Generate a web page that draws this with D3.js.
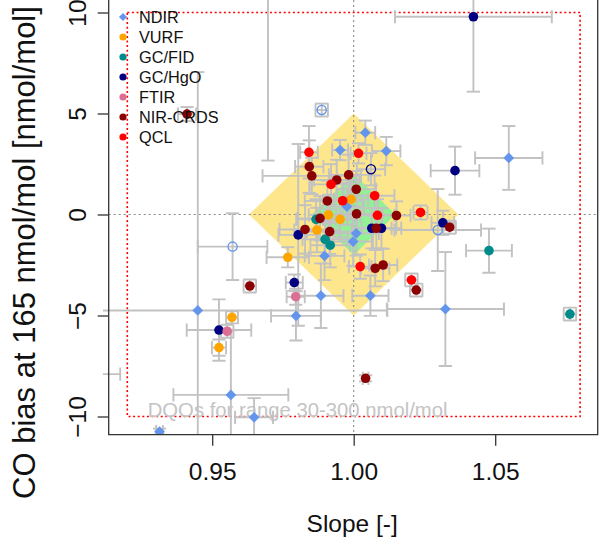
<!DOCTYPE html>
<html><head><meta charset="utf-8">
<script src="https://cdn.jsdelivr.net/npm/d3@7"></script>
<style>html,body{margin:0;padding:0;background:#fff}svg{display:block;font-family:"Liberation Sans",Arial,sans-serif}</style>
</head><body>
<svg id="c" width="601" height="540"></svg>
<script>
// ---- data ----
const seriesNames = ["NDIR","VURF","GC/FID","GC/HgO","FTIR","NIR-CRDS","QCL"];
const seriesColors = ["#6495ED","#FFA500","#008B8B","#000080","#DB7093","#8B0000","#FF0000"];
// rows: [slope, bias, slopeErr, biasErr, open(1)]
const NDIR = [
 [1.0548,2.80,0.0119,1.58],[1.0324,-4.68,0.0207,2.82],[1.0059,-4.02,0.0064,1.0],
 [0.9884,-4.02,0.0080,1.6],[0.9796,-5.02,0.0088,1.22],[0.9449,-4.75,0.067,11.8],
 [0.9566,-8.93,0.0203,3.2],[0.9648,-10.04,0.0067,0.95],[0.9314,-10.75,0.0012,0.15],
 [1.0041,4.05,0.0035,0.6],[0.9952,3.19,0.0028,0.5],[1.0115,3.14,0.0050,0.7],
 [0.9887,5.17,0.0022,0.32,1],[0.9976,0.39,0.006,0.9],[1.0009,-0.93,0.008,1.1],
 [0.9998,-1.34,0.007,1.2],[0.9897,-2.05,0.007,1.2],[1.0297,-0.77,0.0153,2.03,1],
 [0.9572,-1.59,0.0123,1.65,1],[0.9697,15.0,0,12.33],[0.905,-7.9,0.0125,0]
];
const VURF = [
 [0.9524,-6.59,0.0025,0.4],[0.9570,-5.09,0.0021,0.3],[0.9767,-2.12,0.0075,0.5],
 [0.9991,0.75,0.006,0.8],[0.9911,-0.02,0.007,1.0],[0.9952,-0.24,0.006,0.9],[0.9870,-0.77,0.008,1.1]
];
const GCFID = [
 [1.0764,-4.93,0.0022,0.32],[1.0478,-1.79,0.0081,1.09],[0.9867,-0.24,0.007,1.0],
 [0.9899,-1.23,0.008,1.2],[0.9917,-1.52,0.007,1.1]
];
const GCHGO = [
 [1.0423,9.79,0.0277,3.71],[1.0358,2.17,0.0086,1.19],[1.0315,-0.41,0.004,0.6],
 [0.9804,-1.01,0.007,4.5],[1.0064,-0.68,0.007,1.0],[1.0098,-0.68,0.007,1.0],
 [0.9790,-3.37,0.003,0.4],[0.9524,-5.72,0.0114,1.52],[1.0061,2.24,0.005,0.8,1]
];
const FTIR = [[0.9553,-5.78,0.0022,0.32],[0.9795,-4.07,0.0032,0.4]];
const NIRCRDS = [
 [0.9411,4.97,0.0032,0.35],[0.9633,-3.54,0.0022,0.32],[1.0042,-8.11,0.001,0.15],
 [1.0221,-3.74,0.0022,0.32],[1.0339,-0.63,0.0022,0.32],[0.9843,2.37,0.005,1.3],
 [0.9852,1.91,0.0174,0.9],[0.9940,1.71,0.008,1.0],[0.9982,1.96,0.007,1.0],
 [1.0009,1.25,0.007,0.9],[0.9907,0.67,0.008,1.0],[1.0010,0.03,0.007,0.9],
 [0.9881,-0.19,0.008,1.1],[0.9828,-0.74,0.009,1.2],[0.9915,-0.85,0.008,1.1],
 [1.0080,-0.68,0.007,1.0],[1.0151,-0.05,0.005,0.7],[1.0076,-2.66,0.005,0.9],[1.0104,-2.50,0.005,0.8]
];
const QCL = [
 [0.9842,3.08,0.0031,1.3],[1.0017,3.03,0.0028,0.5],[0.9920,1.49,0.007,1.0],
 [0.9961,0.68,0.007,0.9],[1.0074,0.93,0.007,1.0],[1.0084,-0.04,0.006,0.8],
 [1.0236,0.10,0.0025,0.35],[1.0023,-2.58,0.004,0.6],[1.0204,-3.24,0.0022,0.32]
];
const seriesData = [NDIR, VURF, GCFID, GCHGO, FTIR, NIRCRDS, QCL];
// DQO regions
const dqoOuterSlope = [0.963, 1, 1.037, 1], dqoOuterBias = [0, 5, 0, -5];
const dqoInnerSlope = [0.9852, 1, 1.0148, 1], dqoInnerBias = [0, 2, 0, -2];
const rangeBoxSlope = [0.92, 1.08], rangeBoxBias = [-10, 10];
const xTicks = [0.95, 1.00, 1.05], yTicks = [-10, -5, 0, 5, 10];

// ---- layout ----
const svg = d3.select("#c");
const L = 108.7, R = 597.7, B = 434.7, T = -30;
const x = d3.scaleLinear().domain([0.95, 1.05]).range([212.2, 495.2]);
const y = d3.scaleLinear().domain([-10, 10]).range([416.5, 12.5]);

svg.append("clipPath").attr("id","clip").append("rect")
  .attr("x", 103).attr("y", T).attr("width", R - 103).attr("height", B - T);
const g = svg.append("g").attr("clip-path","url(#clip)");

const poly = (xs, ys) => xs.map((s,i)=>[x(s), y(ys[i])]);
g.append("polygon").attr("points", poly(dqoOuterSlope,dqoOuterBias).join(" ")).attr("fill","#FEE68D");
g.append("polygon").attr("points", poly(dqoInnerSlope,dqoInnerBias).join(" ")).attr("fill","#92F095");

// zero lines
g.append("line").attr("x1",L).attr("x2",R).attr("y1",y(0)).attr("y2",y(0))
  .attr("stroke","#8a8a8a").attr("stroke-width",1.1).attr("stroke-dasharray","2,3");
g.append("line").attr("x1",x(1)).attr("x2",x(1)).attr("y1",T).attr("y2",B)
  .attr("stroke","#8a8a8a").attr("stroke-width",1.1).attr("stroke-dasharray","2,3");
// range box
g.append("rect").attr("x",x(rangeBoxSlope[0])).attr("y",y(rangeBoxBias[1]))
  .attr("width",x(rangeBoxSlope[1])-x(rangeBoxSlope[0])).attr("height",y(rangeBoxBias[0])-y(rangeBoxBias[1]))
  .attr("fill","none").attr("stroke","#FF0000").attr("stroke-width",1.6).attr("stroke-dasharray","2,2.6");

g.append("text").attr("x",147.7).attr("y",416.7).attr("font-size",20.3).attr("fill","#c4c4c4")
  .text("DQOs for range 30-300 nmol/mol");

// error bars
const cap = 6.6;
const eb = g.append("g").attr("stroke","#c2c2c2").attr("stroke-width",1.9).attr("fill","none");
seriesData.forEach(arr => arr.forEach(d => {
  const px = x(d[0]), py = y(d[1]);
  if (d[2] > 0) {
    const a = x(d[0]-d[2]), b = x(d[0]+d[2]);
    eb.append("line").attr("x1",a).attr("x2",b).attr("y1",py).attr("y2",py);
    eb.append("line").attr("x1",a).attr("x2",a).attr("y1",py-cap).attr("y2",py+cap);
    eb.append("line").attr("x1",b).attr("x2",b).attr("y1",py-cap).attr("y2",py+cap);
  }
  if (d[3] > 0) {
    const a = y(d[1]-d[3]), b = y(d[1]+d[3]);
    eb.append("line").attr("x1",px).attr("x2",px).attr("y1",a).attr("y2",b);
    eb.append("line").attr("x1",px-cap).attr("x2",px+cap).attr("y1",a).attr("y2",a);
    eb.append("line").attr("x1",px-cap).attr("x2",px+cap).attr("y1",b).attr("y2",b);
  }
}));

// points
const diamond = h => `M0,${-h}L${h},0L0,${h}L${-h},0Z`;
function marker(sel, si, open, scale) {
  const c = seriesColors[si];
  if (open) {
    sel.append("circle").attr("r",4.6*scale).attr("fill","none").attr("stroke",c).attr("stroke-width",1.3);
  } else if (si === 0) {
    sel.append("path").attr("d",diamond(5.4*scale)).attr("fill",c);
  } else {
    sel.append("circle").attr("r",4.8*scale).attr("fill",c);
  }
}
seriesData.forEach((arr, si) => arr.forEach(d => {
  const m = g.append("g").attr("transform",`translate(${x(d[0])},${y(d[1])})`);
  marker(m, si, d[4] === 1, 1);
}));

// axes / frame
const axCol = "#333";
svg.append("path").attr("d",`M${L},-2V${B}H${R}V-2`).attr("fill","none").attr("stroke",axCol).attr("stroke-width",1.3);
const xa = svg.append("g").attr("transform",`translate(0,${B})`)
  .call(d3.axisBottom(x).tickValues(xTicks).tickFormat(d3.format(".2f")).tickSize(11).tickPadding(17));
xa.select(".domain").remove();
xa.selectAll("line").attr("stroke",axCol).attr("stroke-width",1.3);
xa.selectAll("text").attr("font-size",24.5).attr("fill","#111").attr("font-family","Liberation Sans, Arial, sans-serif");
const ya = svg.append("g").attr("transform",`translate(${L},0)`)
  .call(d3.axisLeft(y).tickValues(yTicks).tickFormat(d3.format("d")).tickSize(11));
ya.select(".domain").remove();
ya.selectAll("line").attr("stroke",axCol).attr("stroke-width",1.3);
ya.selectAll("text").attr("x",0).attr("dy",0).attr("text-anchor","middle")
  .attr("transform",`translate(${86-L},0) rotate(-90)`)
  .attr("font-size",24.5).attr("fill","#111").attr("font-family","Liberation Sans, Arial, sans-serif");

svg.append("text").attr("x",352.2).attr("y",531.7).attr("text-anchor","middle")
  .attr("font-size",24.5).attr("fill","#111").text("Slope [-]");
svg.append("text").attr("transform","translate(35,252.5) rotate(-90)").attr("text-anchor","middle")
  .attr("font-size",31).attr("fill","#111").text("CO bias at 165 nmol/mol [nmol/mol]");

// legend
const lg = svg.append("g");
seriesNames.forEach((n, i) => {
  const cy = 17 + 20 * i;
  const m = lg.append("g").attr("transform",`translate(123,${cy})`);
  marker(m, i, false, 0.75);
  lg.append("text").attr("x",139).attr("y",cy+6).attr("font-size",16.3).attr("fill","#111").text(n);
});
</script>
</body></html>
